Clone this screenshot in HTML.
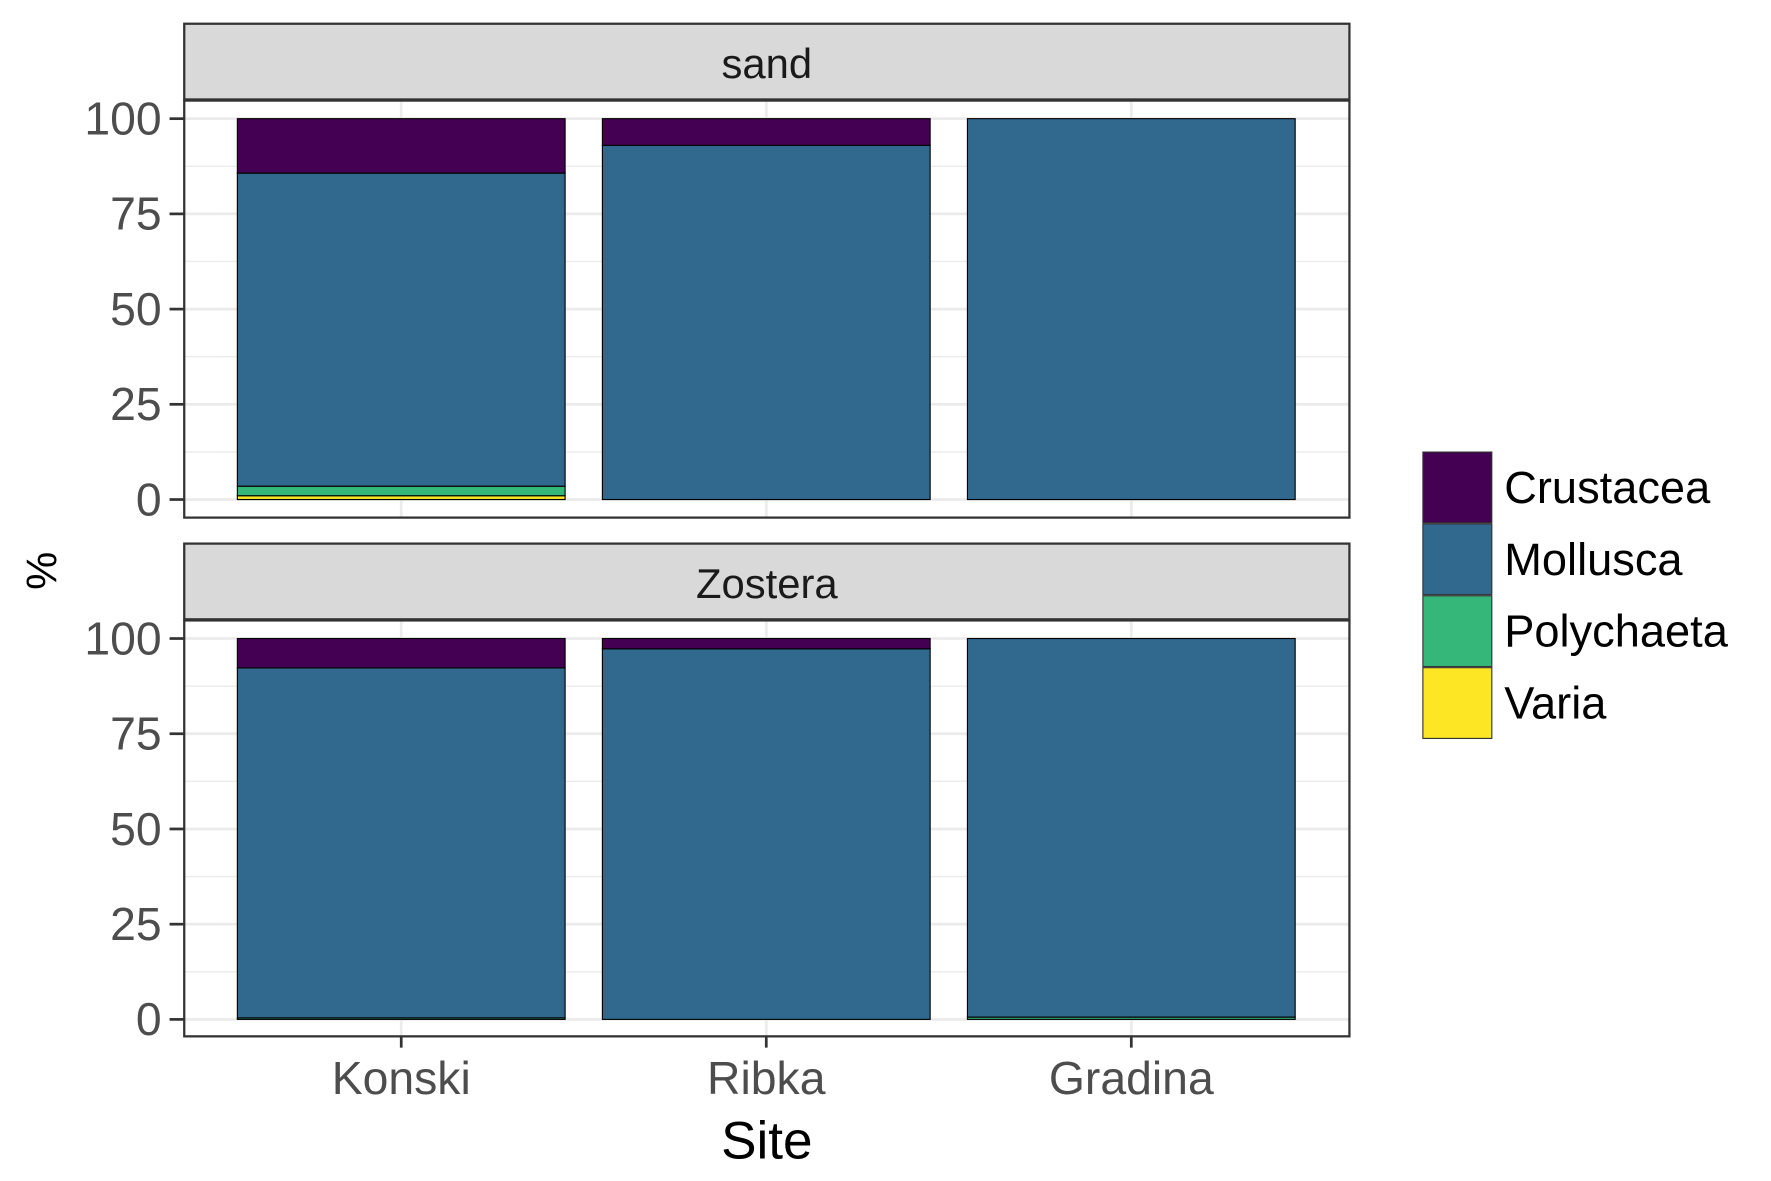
<!DOCTYPE html>
<html><head><meta charset="utf-8"><style>
html,body{margin:0;padding:0;background:#fff}
svg{display:block}
text{font-family:"Liberation Sans",Arial,sans-serif}
</style></head><body>
<svg id="chart" width="1771" height="1181" viewBox="0 0 1567 1045" xmlns="http://www.w3.org/2000/svg"></svg>
<script>
const sites = ["Konski","Ribka","Gradina"];
const facets = ["sand","Zostera"];
const groups = ["Varia","Polychaeta","Mollusca","Crustacea"];
const colors = {Crustacea:"#440154",Mollusca:"#31688E",Polychaeta:"#35B779",Varia:"#FDE725"};
// stack order bottom->top: Varia, Polychaeta, Mollusca, Crustacea
const sandVaria = [1.0, 0, 0];
const sandPolychaeta = [2.5, 0, 0];
const sandMollusca = [82.2, 93.0, 100];
const sandCrustacea = [14.3, 7.0, 0];
const zosVaria = [0, 0, 0];
const zosPolychaeta = [0.4, 0, 0.6];
const zosMollusca = [91.9, 97.3, 99.4];
const zosCrustacea = [7.7, 2.7, 0];
const yTicks = [0,25,50,75,100];
const legendOrder = ["Crustacea","Mollusca","Polychaeta","Varia"];

const data = {
  sand:{Varia:sandVaria,Polychaeta:sandPolychaeta,Mollusca:sandMollusca,Crustacea:sandCrustacea},
  Zostera:{Varia:zosVaria,Polychaeta:zosPolychaeta,Mollusca:zosMollusca,Crustacea:zosCrustacea}
};
const svg = document.getElementById('chart');
const NS = "http://www.w3.org/2000/svg";
function mk(tag, attrs, parent){const e=document.createElementNS(NS,tag);for(const k in attrs)e.setAttribute(k,attrs[k]);(parent||svg).appendChild(e);return e;}

const PL=163, PR=1194;
const panels=[{stripTop:21,top:89,bottom:458,y0:442,y100:105},{stripTop:481,top:549,bottom:917,y0:902,y100:565}];
const xCenter = i => 355 + i*323;
const barW = 290;

facets.forEach((f,pi)=>{
  const p=panels[pi];
  const y = v => p.y0 - (v/100)*(p.y0-p.y100);
  const g=mk('g',{});
  
  
  mk('rect',{x:PL,y:p.top,width:PR-PL,height:p.bottom-p.top,fill:'#fff'},g);
  for(let k=0;k<yTicks.length-1;k++){const v=(yTicks[k]+yTicks[k+1])/2;mk('line',{x1:PL,x2:PR,y1:y(v),y2:y(v),stroke:'#EBEBEB','stroke-width':1.2},g);}
  yTicks.forEach(v=>{mk('line',{x1:PL,x2:PR,y1:y(v),y2:y(v),stroke:'#EBEBEB','stroke-width':2.4},g);});
  sites.forEach((s,i)=>{mk('line',{x1:xCenter(i),x2:xCenter(i),y1:p.top,y2:p.bottom,stroke:'#EBEBEB','stroke-width':2.4},g);});
  sites.forEach((s,i)=>{
    let cum=0;
    groups.forEach(gr=>{
      const v=data[f][gr][i];
      if(v<=0)return;
      const r=mk('rect',{x:xCenter(i)-barW/2,y:y(cum+v),width:barW,height:y(cum)-y(cum+v),fill:colors[gr],stroke:'#000','stroke-width':1},g);
      
      
      cum+=v;
    });
  });
  mk('rect',{x:PL,y:p.top,width:PR-PL,height:p.bottom-p.top,fill:'none',stroke:'#333','stroke-width':2},g);
  const st=mk('rect',{x:PL,y:p.stripTop,width:PR-PL,height:p.top-p.stripTop-1,fill:'#D9D9D9',stroke:'#333','stroke-width':2},g);
  
  
  const stt=mk('text',{x:(PL+PR)/2,y:p.stripTop+48,'text-anchor':'middle','font-size':37,fill:'#1A1A1A'},g);
  stt.textContent=f;
  
  
  yTicks.forEach(v=>{
    mk('line',{x1:150,x2:PL,y1:y(v),y2:y(v),stroke:'#333','stroke-width':2.4},g);
    const t=mk('text',{x:143,y:y(v)+14,'text-anchor':'end','font-size':41,fill:'#4D4D4D'},g);
    t.textContent=v;
    
    
  });
});
sites.forEach((s,i)=>{
  mk('line',{x1:xCenter(i),x2:xCenter(i),y1:917,y2:927,stroke:'#333','stroke-width':2.4});
  const t=mk('text',{x:xCenter(i),y:968,'text-anchor':'middle','font-size':41,fill:'#4D4D4D'});
  t.textContent=s;
  
  
});
const xt=mk('text',{x:(PL+PR)/2,y:1025,'text-anchor':'middle','font-size':47,fill:'#000'});
xt.textContent='Site';


const yt=mk('text',{x:0,y:0,'text-anchor':'middle','font-size':38,fill:'#000',transform:'translate(50,505) rotate(-90)'});
yt.textContent='%';


legendOrder.forEach((gr,k)=>{
  const top=400+k*63.6;
  const r=mk('rect',{x:1259,y:top,width:61,height:62.6,fill:colors[gr],stroke:'#333','stroke-width':1});
  
  
  const t=mk('text',{x:1331,y:top+45,'font-size':40,fill:'#000'});
  t.textContent=gr;
  
  
});
</script>
</body></html>
